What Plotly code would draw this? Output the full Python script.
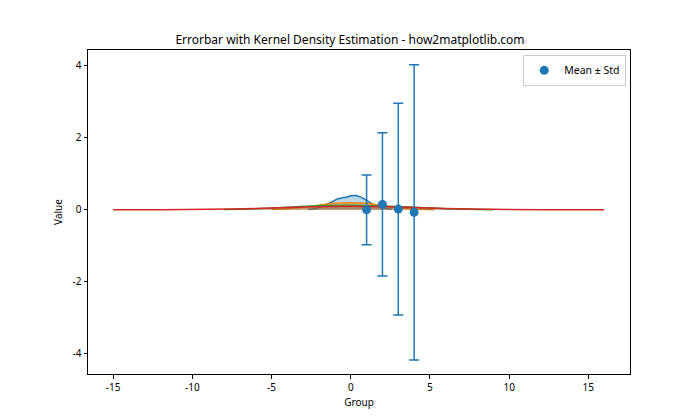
import plotly.graph_objects as go

# Group positions and error bar statistics
groups = [1, 2, 3, 4]
means = [0.0, 0.15, 0.02, -0.07]
stds = [0.97, 1.99, 2.94, 4.1]

# KDE curves (x, density)
kde1_x = [-2.7, -2.2, -1.8, -1.5, -1.2, -0.9, -0.6, -0.3, 0.0, 0.3, 0.6, 0.9, 1.2, 1.5, 1.8, 2.2, 2.6]
kde1_y = [0.01, 0.04, 0.10, 0.16, 0.22, 0.29, 0.33, 0.35, 0.39, 0.40, 0.36, 0.29, 0.21, 0.14, 0.08, 0.04, 0.015]
kde2_x = [-5.0, -4.0, -3.0, -2.0, -1.0, 0.0, 1.0, 2.0, 3.0, 4.0, 5.3]
kde2_y = [0.01, 0.03, 0.07, 0.13, 0.18, 0.20, 0.18, 0.12, 0.06, 0.025, 0.008]
kde3_x = [-8.0, -6.0, -4.0, -2.0, 0.0, 2.0, 4.0, 6.0, 8.0, 9.0]
kde3_y = [0.008, 0.03, 0.07, 0.12, 0.13, 0.11, 0.07, 0.03, 0.01, 0.005]
kde4_x = [-15.0, -12.0, -9.0, -6.0, -3.0, 0.0, 3.0, 6.0, 9.0, 12.0, 16.0]
kde4_y = [0.001, 0.004, 0.015, 0.04, 0.08, 0.10, 0.08, 0.04, 0.015, 0.004, 0.001]

kdes = [(kde1_x, kde1_y), (kde2_x, kde2_y), (kde3_x, kde3_y), (kde4_x, kde4_y)]
colors = ["#1f77b4", "#ff7f0e", "#2ca02c", "#d62728"]
fills = ["rgba(31,119,180,0.3)", "rgba(255,127,14,0.3)", "rgba(44,160,44,0.3)", "rgba(214,39,40,0.3)"]

x_ticks = [-15, -10, -5, 0, 5, 10, 15]
y_ticks = [-4, -2, 0, 2, 4]

FONT = "Noto Sans"

fig = go.Figure()
for (kx, ky), c, f in zip(kdes, colors, fills):
    fig.add_trace(go.Scatter(x=kx, y=ky, mode="lines", line=dict(color=c, width=1.5, shape="spline"),
                             fill="tozeroy", fillcolor=f, showlegend=False, hoverinfo="skip"))

fig.add_trace(go.Scatter(
    x=groups, y=means, mode="markers", name="Mean ± Std",
    marker=dict(color="#1f77b4", size=9),
    error_y=dict(type="data", array=stds, visible=True, color="#1f77b4", thickness=1.5, width=5),
))

axis_common = dict(showgrid=False, zeroline=False, showline=True, linecolor="black", linewidth=1,
                   mirror=True, ticks="outside", ticklen=3.5, tickwidth=1, tickcolor="black",
                   tickfont=dict(family=FONT, size=10, color="black"))

fig.update_layout(
    width=700, height=420,
    margin=dict(l=88, r=70, t=50, b=46),
    paper_bgcolor="white", plot_bgcolor="white",
    title=dict(text="Errorbar with Kernel Density Estimation - how2matplotlib.com",
               x=0.5, xanchor="center", y=1 - 40 / 420, yanchor="middle",
               font=dict(family=FONT, size=12, color="black")),
    xaxis=dict(range=[-16.59, 17.63], tickvals=x_ticks, ticktext=[str(v) for v in x_ticks],
               title=dict(text="Group", font=dict(family=FONT, size=10, color="black"), standoff=6),
               **axis_common),
    yaxis=dict(range=[-4.56, 4.44], tickvals=y_ticks, ticktext=[str(v) for v in y_ticks],
               title=dict(text="Value", font=dict(family=FONT, size=10, color="black"), standoff=8),
               **axis_common),
    legend=dict(x=0.993, xanchor="right", y=0.985, yanchor="top", itemwidth=30,
                bordercolor="#cccccc", borderwidth=1, bgcolor="rgba(255,255,255,0.8)",
                font=dict(family=FONT, size=10.5, color="black")),
    showlegend=True,
)

fig.write_html("out.html")
